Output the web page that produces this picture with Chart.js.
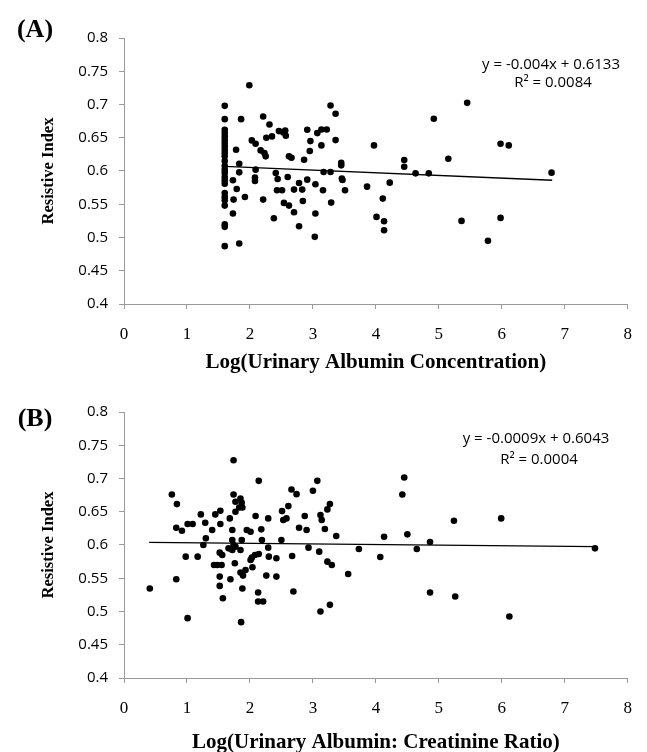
<!DOCTYPE html>
<html>
<head>
<meta charset="utf-8">
<script src="https://cdn.jsdelivr.net/npm/chart.js@4/dist/chart.umd.min.js"></script>
<style>
  html, body { margin:0; padding:0; background:#fff; overflow:hidden; }
  #wrap { position:relative; width:647px; height:752px; }
  canvas { position:absolute; left:0; }
</style>
</head>
<body>
<div id="wrap">
  <canvas id="cA" width="647" height="376" style="top:0px;width:647px;height:376px"></canvas>
  <canvas id="cB" width="647" height="376" style="top:376px;width:647px;height:376px"></canvas>
</div>
<script>
// ---------- Data ----------
const xTickLabels = ['0','1','2','3','4','5','6','7','8'];
const yTickLabels = ['0.4','0.45','0.5','0.55','0.6','0.65','0.7','0.75','0.8'];

// Panel A: Log(Urinary Albumin Concentration) vs Resistive Index
const aX = [
  1.6,1.6,1.6,1.6,1.6,1.6,1.6,1.6,1.6,1.6,1.6,1.6,1.6,1.6,1.6,1.6,1.6,1.6,1.6,1.6,1.6,1.6,1.6,1.6,1.6,
  1.86,1.78,1.73,1.74,1.83,1.83,1.79,1.73,1.92,1.83,
  2.03,2.09,2.09,2.08,2.08,2.21,2.31,2.26,2.35,2.17,2.23,2.25,2.21,2.38,2.41,2.44,2.43,2.51,
  2.46,2.53,2.56,2.57,2.62,2.66,2.60,2.54,2.62,2.70,2.70,2.78,2.84,2.86,2.91,2.96,2.95,2.83,2.78,2.91,
  3.03,3.04,3.04,3.07,1.99,
  3.135,3.22,3.28,3.36,3.36,3.135,3.17,3.28,3.16,3.29,3.45,3.45,3.46,3.47,3.51,
  3.86,3.97,4.01,4.11,4.13,4.13,4.22,4.45,4.45,4.63,4.84,4.92,5.15,5.36,5.45,5.78,5.98,5.98,6.11,6.79
];
const aY = [
  0.698,0.678,0.662,0.657,0.652,0.647,0.642,0.637,0.632,0.627,0.622,0.615,0.608,0.602,0.597,0.591,0.586,0.581,0.567,0.561,0.556,0.548,0.520,0.516,0.487,
  0.678,0.632,0.586,0.557,0.611,0.598,0.573,0.536,0.561,0.491,
  0.646,0.641,0.602,0.590,0.585,0.682,0.670,0.650,0.652,0.631,0.627,0.622,0.557,0.529,0.597,0.588,0.571,0.571,
  0.660,0.658,0.661,0.653,0.622,0.620,0.591,0.552,0.548,0.538,0.572,0.517,0.555,0.617,0.662,0.645,0.630,0.572,0.582,0.587,
  0.501,0.536,0.580,0.657,0.729,
  0.6625,0.6625,0.6985,0.686,0.6465,0.6385,0.5985,0.5985,0.571,0.5525,0.6125,0.6085,0.5885,0.5865,0.571,
  0.5765,0.6385,0.531,0.5585,0.5245,0.511,0.5825,0.6165,0.6065,0.5965,0.5965,0.6785,0.6185,0.525,0.7025,0.495,0.641,0.5295,0.6385,0.5975
];
const trendAX = [1.6, 6.8];
const trendAY = [0.6069, 0.5861];
const eqA = ['y = -0.004x + 0.6133', 'R\u00B2 = 0.0084'];

// Panel B: Log(Urinary Albumin: Creatinine Ratio) vs Resistive Index
const bX = [
  0.41,0.76,0.84,0.83,0.92,0.83,0.98,1.01,1.01,1.09,1.17,1.22,1.29,1.30,1.26,1.40,1.45,1.53,1.53,
  1.43,1.48,1.55,1.52,1.56,1.52,1.52,1.57,1.68,1.72,1.66,1.69,1.74,1.74,1.77,1.77,1.85,1.87,1.83,1.88,
  1.72,1.74,1.72,1.77,1.76,1.85,1.87,1.85,1.89,1.88,1.86,1.93,1.95,2.01,2.01,2.03,2.08,2.14,2.04,2.09,
  2.14,2.18,2.19,2.13,2.13,2.21,2.26,2.29,2.29,2.30,2.42,2.42,2.51,2.53,2.50,2.58,2.61,2.66,2.67,2.69,
  2.74,2.78,2.87,2.90,2.93,3.00,3.07,
  3.10,3.12,3.14,3.19,3.23,3.27,3.23,3.30,3.37,3.12,3.27,3.56,3.73,4.07,4.13,4.42,4.45,4.50,4.65,4.86,
  4.86,5.24,5.26,5.99,6.12,7.48
];
const bY = [
  0.5345,0.676,0.6615,0.626,0.6215,0.5485,0.5825,0.490,0.6315,0.6315,0.5825,0.646,0.6335,0.610,0.600,0.6225,0.646,0.6515,0.6315,
  0.570,0.570,0.570,0.5885,0.585,0.5525,0.5385,0.520,0.640,0.6225,0.595,0.5485,0.7275,0.676,0.665,0.650,0.670,0.6635,0.6565,0.6565,
  0.6075,0.600,0.5925,0.5975,0.5725,0.5925,0.6075,0.5585,0.554,0.5345,0.484,0.5625,0.6225,0.620,0.5775,0.581,0.585,0.5865,0.5665,0.6435,
  0.6965,0.6235,0.6075,0.5285,0.515,0.515,0.554,0.596,0.640,0.5825,0.580,0.5525,0.651,0.6375,0.6075,0.640,0.6585,0.6835,0.5835,0.530,
  0.6765,0.626,0.6435,0.6225,0.596,0.6815,0.6965,
  0.590,0.645,0.6375,0.624,0.6535,0.6615,0.575,0.570,0.6135,0.500,0.510,0.5565,0.594,0.582,0.6125,0.676,0.7015,0.616,0.594,0.6045,
  0.5285,0.6365,0.5225,0.640,0.4925,0.595
];
const trendBX = [0.4, 7.5];
const trendBY = [0.6039, 0.5976];
const eqB = ['y = -0.0009x + 0.6043', 'R\u00B2 = 0.0004'];

// ---------- Helpers ----------
function pts(xs, ys) { return xs.map((x, i) => ({x: x, y: ys[i]})); }

const SANS = "'Open Sans', 'Liberation Sans', sans-serif";
const SERIF = "'Liberation Serif', 'DejaVu Serif', serif";
const AXIS_GREY = '#9a9a9a';

function makeChart(canvasId, xs, ys, tx, ty, xTitle, eq, cfg) {
  const annot = {
    id: 'annot_' + canvasId,
    afterDraw(chart) {
      const ctx = chart.ctx;
      ctx.save();
      ctx.fillStyle = '#000';
      ctx.textBaseline = 'middle';
      ctx.textAlign = 'center';
      ctx.font = '15px ' + SANS;
      ctx.fillText(eq[0], cfg.eqX1, cfg.eqY1);
      ctx.fillText(eq[1], cfg.eqX2, cfg.eqY2);
      ctx.font = 'bold 26px ' + SERIF;
      ctx.textAlign = 'center';
      ctx.fillText(cfg.panel, 35, cfg.panelY);
      ctx.restore();
    }
  };
  return new Chart(document.getElementById(canvasId), {
    type: 'scatter',
    data: {
      datasets: [
        {
          data: pts(xs, ys),
          backgroundColor: '#000',
          borderColor: '#000',
          pointRadius: 3.3,
          pointBorderWidth: 0,
          pointHoverRadius: 3.3
        },
        {
          type: 'line',
          data: pts(tx, ty),
          borderColor: '#000',
          borderWidth: 1.3,
          pointRadius: 0,
          fill: false,
          tension: 0
        }
      ]
    },
    options: {
      responsive: false,
      animation: false,
      events: [],
      layout: { padding: { left: 0, right: 14, top: cfg.top, bottom: 0 } },
      plugins: { legend: { display: false }, tooltip: { enabled: false } },
      scales: {
        x: {
          type: 'linear',
          min: 0, max: 8,
          afterBuildTicks(s) { s.ticks = xTickLabels.map((t, i) => ({value: i})); },
          ticks: {
            callback: (v, i) => xTickLabels[i],
            font: { family: SERIF, size: 17 },
            color: '#000',
            padding: 15,
            maxRotation: 0
          },
          grid: { display: true, drawOnChartArea: false, drawTicks: true, tickLength: 5, color: AXIS_GREY },
          border: { display: true, color: AXIS_GREY, width: 1 },
          title: {
            display: true,
            text: xTitle,
            font: { family: SERIF, size: 21, weight: 'bold', lineHeight: 1 },
            color: '#000',
            padding: { top: 0, bottom: cfg.titlePad }
          },
          afterFit(s) { s.height = cfg.xH; }
        },
        y: {
          type: 'linear',
          min: 0.4, max: 0.8,
          afterBuildTicks(s) { s.ticks = yTickLabels.map((t, i) => ({value: 0.4 + i * 0.05})); },
          ticks: {
            callback: (v, i) => yTickLabels[i],
            font: { family: SANS, size: 15 },
            color: '#000',
            padding: 11
          },
          grid: { display: true, drawOnChartArea: false, drawTicks: true, tickLength: 5, color: AXIS_GREY },
          border: { display: true, color: AXIS_GREY, width: 1 },
          title: {
            display: true,
            text: 'Resistive Index',
            font: { family: SERIF, size: 16.5, weight: 'bold', lineHeight: 1 },
            color: '#000',
            padding: { top: 40, bottom: 0 }
          },
          afterFit(s) { s.width = 124; }
        }
      }
    },
    plugins: [annot]
  });
}

makeChart('cA', aX, aY, trendAX, trendAY, 'Log(Urinary Albumin Concentration)', eqA,
  { top: 38, xH: 72, titlePad: 2.5, eqX1: 551, eqY1: 65, eqX2: 553, eqY2: 83, panel: '(A)', panelY: 30 });
makeChart('cB', bX, bY, trendBX, trendBY, 'Log(Urinary Albumin: Creatinine Ratio)', eqB,
  { top: 36, xH: 74, titlePad: -1, eqX1: 536, eqY1: 63, eqX2: 539, eqY2: 84, panel: '(B)', panelY: 43 });
</script>
</body>
</html>
